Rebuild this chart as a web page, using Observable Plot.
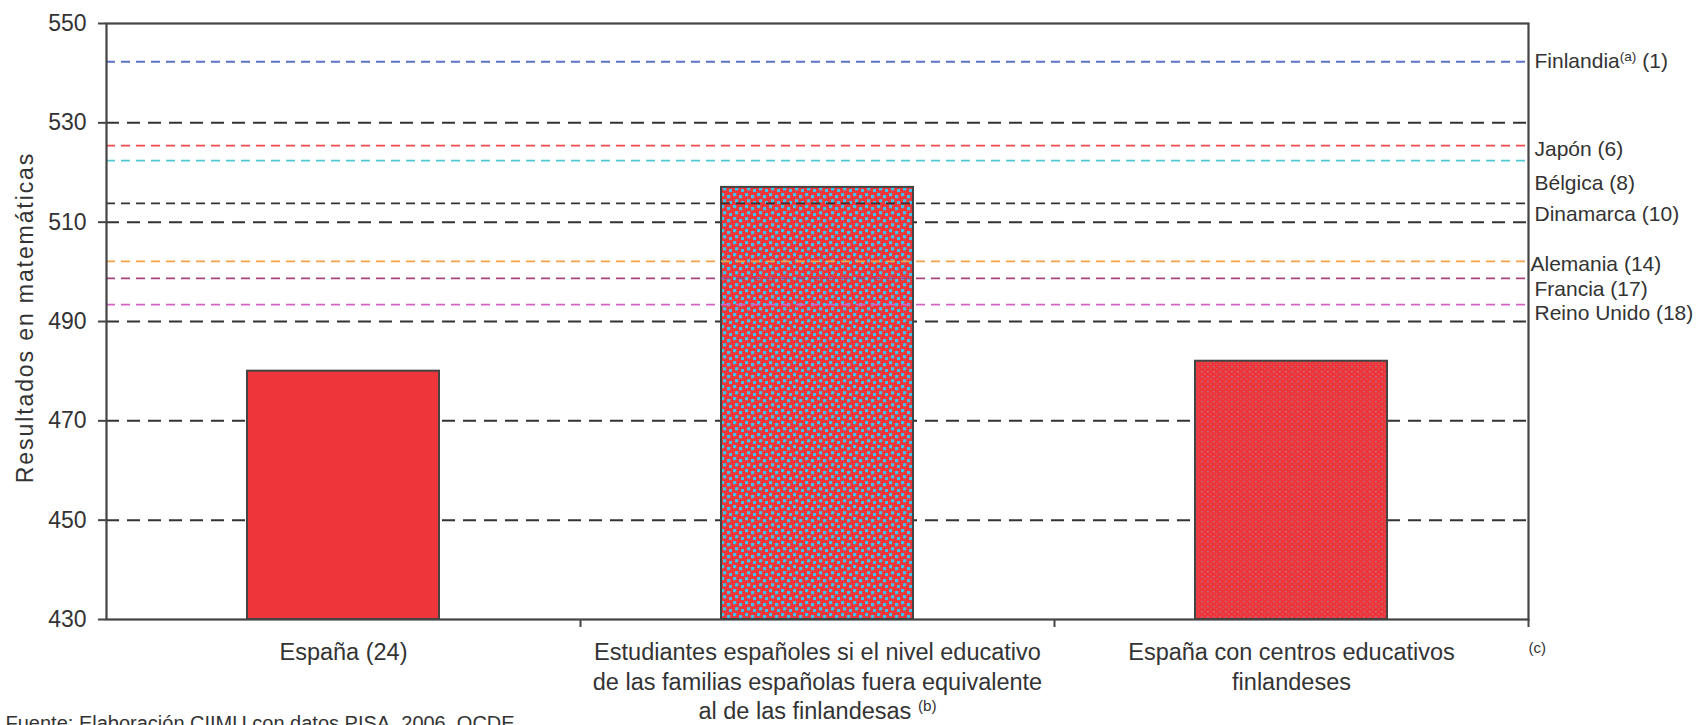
<!DOCTYPE html>
<html>
<head>
<meta charset="utf-8">
<script src="https://cdn.jsdelivr.net/npm/d3@7"></script>
<script src="https://cdn.jsdelivr.net/npm/@observablehq/plot@0.6"></script>
<style>
  html, body { margin: 0; padding: 0; background: #fff; }
  #chart { width: 1701px; height: 725px; overflow: hidden; }
</style>
</head>
<body>
<div id="chart"></div>
<script>
// ---- data ----
const yMin = 430, yMax = 550;
const yTicks = [430, 450, 470, 490, 510, 530, 550];
const gridTicks = [450, 470, 490, 510, 530];
const categories = [
  "España (24)",
  "Estudiantes españoles si el nivel educativo\nde las familias españolas fuera equivalente\nal de las finlandesas ^(b)",
  "España con centros educativos\nfinlandeses"
];
const scores = [480, 517, 482];
const countries = ["Finlandia^(a) (1)", "Japón (6)", "Bélgica (8)", "Dinamarca (10)", "Alemania (14)", "Francia (17)", "Reino Unido (18)"];
const countryScores = [542.3, 525.4, 522.4, 513.8, 502.1, 498.7, 493.4];
const footnoteC = "(c)";
const yTitle = "Resultados en matemáticas";
const source = "Fuente: Elaboración CIIMU con datos PISA, 2006, OCDE.";

// ---- styles ----
const countryColors = ["#5a74c8", "#f04a4e", "#52c8d2", "#333333", "#f5a246", "#a8437e", "#d462c4"];
const labelDy = [0, 4, 23, 11, 3, 11, 9];
const labelDx = [6, 6, 6, 6, 2, 6, 6];
const barFills = ["#ee3539", "url(#dotsBlue)", "url(#dotsFine)"];
const textColor = "#333333";

const bars = scores.map((v, i) => ({i, v, fill: barFills[i]}));
const cats = categories.map((c, i) => ({i, c}));
const lines = countries.map((c, i) => ({c, v: countryScores[i], color: countryColors[i]}));

const plot = Plot.plot({
  width: 1701,
  height: 725,
  marginTop: 23,
  marginLeft: 106,
  marginRight: 173,
  marginBottom: 106,
  style: {fontFamily: "'Liberation Sans', Arial, sans-serif", fontSize: "23px", color: textColor, background: "#fff"},
  x: {domain: [0, 3], axis: null},
  y: {domain: [yMin, yMax], axis: null},
  color: {type: "identity"},
  marks: [
    Plot.ruleY(gridTicks, {stroke: "#333", strokeWidth: 2, strokeDasharray: "13,8"}),
    Plot.rectY(bars, {x1: d => d.i, x2: d => d.i + 1, y1: yMin, y2: "v", insetLeft: 141, insetRight: 141, fill: "fill", stroke: "#444", strokeWidth: 2}),
    Plot.ruleY(lines, {y: "v", stroke: "color", strokeWidth: 1.8, strokeDasharray: "9,6"}),
    Plot.frame({stroke: "#444", strokeWidth: 2.2}),
    Plot.axisY({ticks: yTicks, tickSize: 8, tickPadding: 12, fontSize: 23, fill: textColor, stroke: "#444", strokeWidth: 2, label: null}),
    Plot.axisX({ticks: [1, 2, 3], tickSize: 8, tickFormat: () => "", stroke: "#444", strokeWidth: 2, label: null}),
    Plot.text(lines, {y: "v", text: "c", frameAnchor: "right", textAnchor: "start", dx: 6, fontSize: 21, fill: textColor}),
    Plot.text(cats, {x: d => d.i + 0.5, text: "c", frameAnchor: "bottom", lineAnchor: "top", dy: 20, lineHeight: 1.25, fontSize: 23.5, fill: textColor}),
    Plot.text([footnoteC], {frameAnchor: "bottom-right", textAnchor: "start", dx: 0, dy: 33, fontSize: 15, fill: textColor}),
    Plot.text([yTitle], {frameAnchor: "left", textAnchor: "middle", rotate: -90, dx: -81, dy: -4, fontSize: 23, fill: textColor}),
    Plot.text([source], {frameAnchor: "bottom-left", textAnchor: "start", lineAnchor: "top", dx: -101, dy: 96, fontSize: 20, fill: textColor})
  ]
});

// per-label nudges for the country labels, letter spacing of the y title
const svg = d3.select(plot);
svg.selectAll("text").each(function() {
  const t = this.textContent;
  const k = countries.indexOf(t);
  if (k >= 0) {
    const tr = this.getAttribute("transform") || "";
    this.setAttribute("transform", tr + ` translate(${labelDx[k] - 6},${labelDy[k]})`);
  }
  if (t === yTitle) this.setAttribute("letter-spacing", "1.9");
});

// superscripts like ^(a)
function superscripts(node) {
  const leafs = [];
  node.querySelectorAll("text, tspan").forEach(el => {
    if (el.children.length === 0 && /\^\(\w\)/.test(el.textContent)) leafs.push(el);
  });
  leafs.forEach(el => {
    const parts = el.textContent.split(/(\^\(\w\))/);
    el.textContent = "";
    parts.forEach(p => {
      if (!p) return;
      const ts = document.createElementNS("http://www.w3.org/2000/svg", "tspan");
      if (p.startsWith("^")) {
        ts.textContent = p.slice(1);
        ts.setAttribute("font-size", "65%");
        ts.setAttribute("baseline-shift", "super");
      } else {
        ts.textContent = p;
      }
      el.appendChild(ts);
    });
  });
}
superscripts(plot);

// fill patterns for the bars
const defs = document.createElementNS("http://www.w3.org/2000/svg", "defs");
defs.innerHTML = `
  <pattern id="dotsBlue" patternUnits="userSpaceOnUse" width="12" height="12">
    <rect width="12" height="12" fill="#ee3539"/>
    <rect x="1" y="1" width="3.2" height="3.2" fill="#3ec4ec"/>
    <rect x="7" y="3" width="3.2" height="3.2" fill="#3ec4ec"/>
    <rect x="3" y="7.2" width="3.2" height="3.2" fill="#3ec4ec"/>
    <rect x="9" y="9" width="3.2" height="3.2" fill="#3ec4ec"/>
  </pattern>
  <pattern id="dotsFine" patternUnits="userSpaceOnUse" width="6" height="5">
    <rect width="6" height="5" fill="#ee3539"/>
    <rect x="1" y="1" width="1.8" height="1.4" fill="#8f97bd" opacity="0.55"/>
    <rect x="4" y="3.5" width="1.4" height="1.2" fill="#7fb2d6" opacity="0.35"/>
  </pattern>`;
plot.insertBefore(defs, plot.firstChild);

document.getElementById("chart").appendChild(plot);
</script>
</body>
</html>
